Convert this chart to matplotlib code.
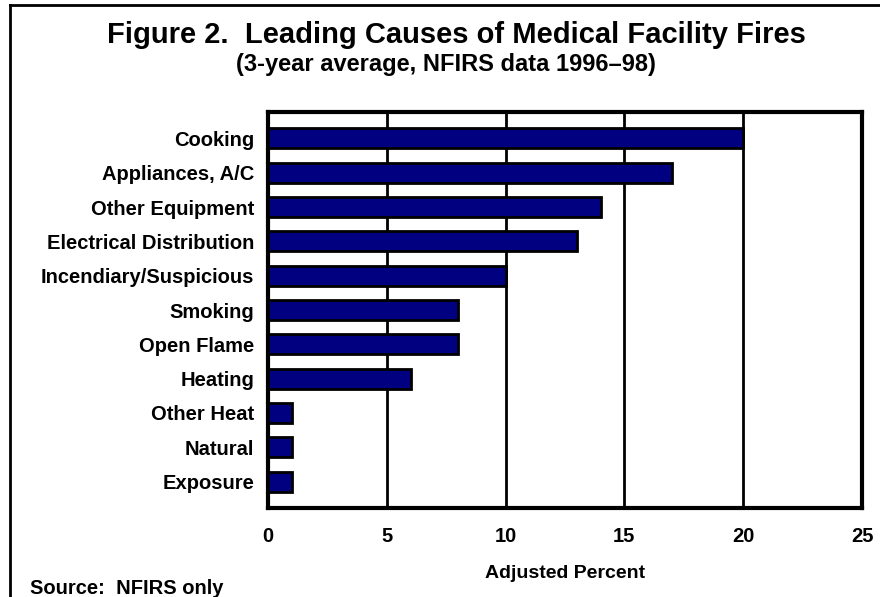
import matplotlib
matplotlib.use('agg')
from matplotlib import pyplot as plt
from matplotlib.lines import Line2D

# causes, top to bottom as shown in the figure
causes = ["Cooking", "Appliances, A/C", "Other Equipment", "Electrical Distribution",
          "Incendiary/Suspicious", "Smoking", "Open Flame", "Heating",
          "Other Heat", "Natural", "Exposure"]
percent = [20, 17, 14, 13, 10, 8, 8, 6, 1, 1, 1]
xticks = [0, 5, 10, 15, 20, 25]

plt.rcParams['font.family'] = ['Liberation Sans', 'DejaVu Sans']
plt.rcParams['font.weight'] = 'bold'

W, H = 880, 597
fig = plt.figure(figsize=(W / 100.0, H / 100.0), dpi=100)

# plot area in pixels: left 268, right 862, top 112, bottom 508
ax = fig.add_axes([268.0 / W, 1 - 508.0 / H, (862 - 268.0) / W, (508 - 112.0) / H])

ypos = list(range(len(causes)))
ax.barh(ypos, percent, height=0.58, color='#000080', edgecolor='black',
        linewidth=2, zorder=3)
ax.set_ylim(len(causes) - 1 + 0.77, -0.77)
ax.set_xlim(0, 25)
ax.set_xticks(xticks)
ax.set_yticks(ypos)
ax.set_yticklabels(causes, fontsize=14.5, fontweight='bold')
ax.set_xticklabels([str(t) for t in xticks], fontsize=14.5, fontweight='bold')
ax.tick_params(axis='y', length=0, pad=10)
ax.tick_params(axis='x', length=0, pad=14)
ax.xaxis.grid(True, color='black', linewidth=2, zorder=0)
ax.set_axisbelow(True)
for s in ax.spines.values():
    s.set_linewidth(3)

fig.text(565.0 / W, 1 - 573.0 / H, "Adjusted Percent",
         ha='center', va='center', fontsize=14, fontweight='bold')
fig.text(456.0 / W, 1 - 35.0 / H, "Figure 2.  Leading Causes of Medical Facility Fires",
         ha='center', va='center', fontsize=21, fontweight='bold')
fig.text(446.0 / W, 1 - 64.0 / H, "(3-year average, NFIRS data 1996\u201398)",
         ha='center', va='center', fontsize=17, fontweight='bold')
fig.text(30.0 / W, 1 - 588.0 / H, "Source:  NFIRS only",
         ha='left', va='center', fontsize=14.5, fontweight='bold')

# outer frame: top and left edges show, right and bottom run off the picture
fig.add_artist(Line2D([10.0 / W, 10.0 / W], [0, 1 - 5.0 / H], color='black',
                      linewidth=2, transform=fig.transFigure))
fig.add_artist(Line2D([10.0 / W, 1], [1 - 5.0 / H, 1 - 5.0 / H], color='black',
                      linewidth=2, transform=fig.transFigure))

plt.savefig('out.png', dpi=100)
